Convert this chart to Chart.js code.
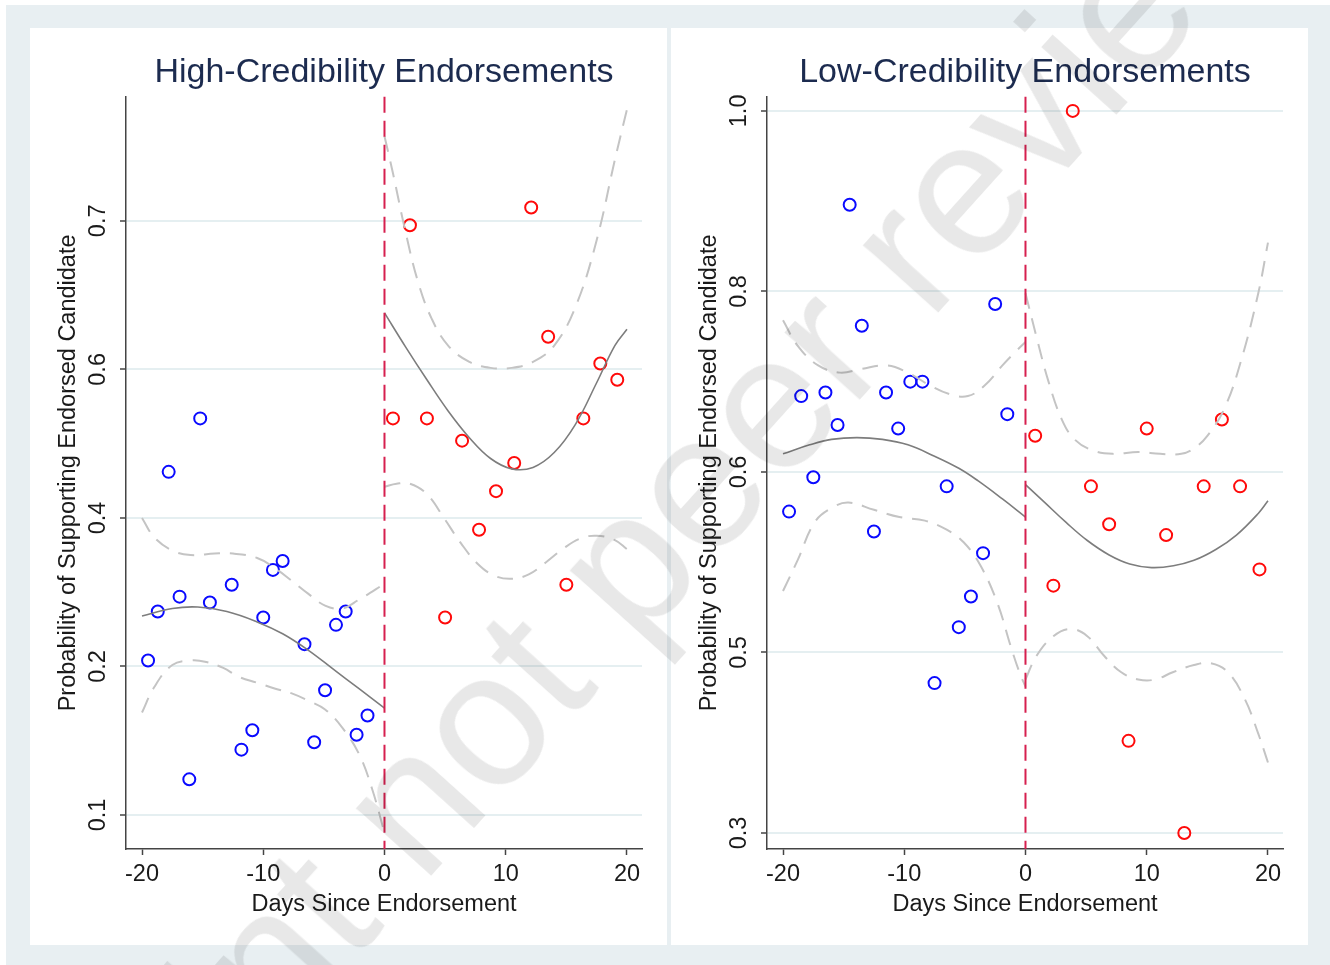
<!DOCTYPE html>
<html>
<head>
<meta charset="utf-8">
<script src="https://cdn.jsdelivr.net/npm/chart.js@4.4.1/dist/chart.umd.min.js"></script>
<style>
  html, body { margin: 0; padding: 0; background: #ffffff; }
  body { width: 1330px; height: 965px; position: relative; overflow: hidden; font-family: "Liberation Sans", Arial, sans-serif; }
  #frame { position: absolute; left: 6px; top: 5px; width: 1324px; height: 960px; background: #e8eff2; }
  .panel { position: absolute; top: 28px; width: 637px; height: 917px; background: #ffffff; }
  .panel canvas { display: block; }
  #wm { position: absolute; left: 641px; top: 544px; transform: translate(-50%, -50%) rotate(-48deg);
        font-size: 192px; line-height: 1; white-space: nowrap; color: rgba(0,0,0,0.09); pointer-events: none; }
</style>
</head>
<body>
<div id="frame"></div>
<div class="panel" style="left:30px"><canvas id="high" width="637" height="917"></canvas></div>
<div class="panel" style="left:671px"><canvas id="low" width="637" height="917"></canvas></div>
<div id="wm">Preprint not peer reviewed</div>
<script>
// ---- shared axis settings ----
const xTicks = [-20, -10, 0, 10, 20];
const cutoffDay = 0;

// ---- High-credibility panel ----
const highYTicks = [0.1, 0.2, 0.3, 0.4, 0.5];
const highYLabels = ['0.1', '0.2', '0.4', '0.6', '0.7'];

const highPreDays = [-19.5, -18.7, -17.8, -16.9, -16.1, -15.2, -14.4, -12.6, -11.8, -10.9, -10.0, -9.2, -8.4, -6.6, -5.8, -4.9, -4.0, -3.2, -2.3, -1.4];
const highPreProb = [0.204, 0.237, 0.331, 0.247, 0.124, 0.367, 0.243, 0.255, 0.144, 0.157, 0.233, 0.265, 0.271, 0.215, 0.149, 0.184, 0.228, 0.237, 0.154, 0.167];

const highPostDays = [0.7, 2.1, 3.5, 5.0, 6.4, 7.8, 9.2, 10.7, 12.1, 13.5, 15.0, 16.4, 17.8, 19.2];
const highPostProb = [0.367, 0.497, 0.367, 0.233, 0.352, 0.292, 0.318, 0.337, 0.509, 0.422, 0.255, 0.367, 0.404, 0.393];

const highPreFitDays = [-20, -17.5, -15.4, -13, -10.5, -8.4, -6.3, -4.2, -2.1, 0];
const highPreFit     = [0.234, 0.239, 0.240, 0.237, 0.230, 0.222, 0.211, 0.198, 0.185, 0.172];
const highPreUpDays  = [-20, -19, -17.5, -16, -14, -12.5, -10.5, -9, -7.7, -6.3, -4.9, -3.5, -2.1, -0.7, 0];
const highPreUp      = [0.300, 0.287, 0.278, 0.275, 0.276, 0.276, 0.273, 0.266, 0.258, 0.249, 0.241, 0.239, 0.245, 0.252, 0.256];
const highPreLoDays  = [-20, -19, -17.5, -16, -14.7, -13.3, -12, -10.5, -9, -7.7, -6.3, -4.9, -3.5, -2.1, -1, 0];
const highPreLo      = [0.169, 0.186, 0.201, 0.204, 0.203, 0.199, 0.193, 0.189, 0.185, 0.182, 0.177, 0.171, 0.159, 0.141, 0.117, 0.088];

const highPostFitDays = [0, 1.75, 3.5, 5.25, 7, 8.75, 10.5, 12.25, 14, 15.75, 17.5, 19, 20];
const highPostFit     = [0.438, 0.415, 0.393, 0.372, 0.354, 0.340, 0.333, 0.334, 0.344, 0.363, 0.391, 0.416, 0.427];
const highPostUpDays  = [0, 0.7, 1.75, 2.8, 3.9, 5.25, 7, 8.75, 10.5, 12.25, 14, 15.8, 17.5, 19, 20];
const highPostUp      = [0.557, 0.532, 0.492, 0.458, 0.434, 0.416, 0.405, 0.401, 0.401, 0.405, 0.416, 0.443, 0.487, 0.541, 0.575];
const highPostLoDays  = [0, 1, 2.1, 3.5, 4.9, 6.3, 7.7, 9.1, 10.5, 11.9, 13.3, 14.7, 16.1, 17.5, 19, 20];
const highPostLo      = [0.321, 0.323, 0.323, 0.316, 0.300, 0.283, 0.269, 0.261, 0.259, 0.262, 0.270, 0.279, 0.286, 0.288, 0.285, 0.279];

// ---- Low-credibility panel ----
const lowYTicks = [0.3, 0.4, 0.5, 0.6, 0.7];
const lowYLabels = ['0.3', '0.5', '0.6', '0.8', '1.0'];

const lowPreDays = [-19.5, -18.5, -17.5, -16.5, -15.5, -14.5, -13.5, -12.5, -11.5, -10.5, -9.5, -8.5, -7.5, -6.5, -5.5, -4.5, -3.5, -2.5, -1.5];
const lowPreProb = [0.478, 0.542, 0.497, 0.544, 0.526, 0.648, 0.581, 0.467, 0.544, 0.524, 0.550, 0.550, 0.383, 0.492, 0.414, 0.431, 0.455, 0.593, 0.532];

const lowPostDays = [0.8, 2.3, 3.9, 5.4, 6.9, 8.5, 10.0, 11.6, 13.1, 14.7, 16.2, 17.7, 19.3];
const lowPostProb = [0.520, 0.437, 0.700, 0.492, 0.471, 0.351, 0.524, 0.465, 0.300, 0.492, 0.529, 0.492, 0.446];

const lowPreFitDays = [-20, -17.8, -16, -13.9, -11.8, -9.7, -7.6, -5.5, -3.9, -1.9, 0];
const lowPreFit     = [0.510, 0.515, 0.518, 0.519, 0.518, 0.515, 0.509, 0.502, 0.495, 0.485, 0.475];
const lowPreUpDays  = [-20, -18.8, -17.1, -15.3, -13.6, -11.4, -9.7, -7.9, -6.2, -4.75, -3.35, -1.9, -0.9, 0];
const lowPreUp      = [0.584, 0.570, 0.559, 0.555, 0.557, 0.559, 0.555, 0.548, 0.543, 0.542, 0.548, 0.559, 0.566, 0.572];
const lowPreLoDays  = [-20, -18.8, -17.4, -16, -14.6, -12.5, -10.4, -8.3, -6.5, -5.1, -3.7, -2.3, -1.2, -0.5, 0];
const lowPreLo      = [0.434, 0.451, 0.472, 0.480, 0.483, 0.479, 0.475, 0.473, 0.468, 0.461, 0.448, 0.427, 0.403, 0.389, 0.381];

const lowPostFitDays = [0, 1.6, 3.35, 5.1, 6.9, 8.6, 10.4, 12.2, 13.9, 15.7, 17.4, 19.2, 20];
const lowPostFit     = [0.493, 0.483, 0.472, 0.462, 0.454, 0.449, 0.447, 0.448, 0.451, 0.457, 0.465, 0.477, 0.484];
const lowPostUpDays  = [0, 0.9, 1.9, 3, 4.05, 5.5, 7.2, 9.3, 11.1, 12.85, 13.9, 15, 16.4, 17.8, 19.2, 20];
const lowPostUp      = [0.599, 0.575, 0.550, 0.529, 0.518, 0.512, 0.510, 0.511, 0.510, 0.510, 0.513, 0.520, 0.535, 0.562, 0.599, 0.627];
const lowPostLoDays  = [0, 0.9, 2.3, 3.7, 5.1, 6.5, 7.9, 9.3, 10.7, 12.15, 13.9, 15.3, 16.7, 18.1, 19.2, 20];
const lowPostLo      = [0.385, 0.398, 0.409, 0.413, 0.409, 0.398, 0.389, 0.385, 0.385, 0.389, 0.393, 0.394, 0.389, 0.374, 0.355, 0.339];

// ---- styling ----
const FONT = '"Liberation Sans", Arial, sans-serif';
const TEXT = '#1a1a1a';
const AXIS = '#444444';
const pts = (xs, ys) => xs.map((x, i) => ({ x, y: ys[i] }));

const cutoffRule = {
  id: 'cutoffRule',
  afterDatasetsDraw(chart) {
    const { ctx, chartArea, scales } = chart;
    const px = scales.x.getPixelForValue(cutoffDay);
    ctx.save();
    ctx.strokeStyle = '#d6204f';
    ctx.lineWidth = 2;
    ctx.setLineDash([16, 8]);
    ctx.beginPath();
    ctx.moveTo(px, chartArea.top);
    ctx.lineTo(px, chartArea.bottom);
    ctx.stroke();
    ctx.restore();
  }
};

function fitLine(data) {
  return { data, showLine: true, borderColor: '#7d7d7d', borderWidth: 1.6, pointRadius: 0,
           tension: 0.4, fill: false };
}
function bandLine(data) {
  return { data, showLine: true, borderColor: '#c4c4c4', borderWidth: 2, borderDash: [16, 10],
           pointRadius: 0, tension: 0.4, fill: false };
}
function dots(data, color) {
  return { data, showLine: false, pointStyle: 'circle', pointRadius: 6, pointBorderWidth: 2,
           pointBorderColor: color, pointBackgroundColor: 'rgba(0,0,0,0)', borderColor: color };
}

function drawPanel(id, title, yTicks, yLabels, yMin, yMax, series) {
  new Chart(document.getElementById(id), {
    type: 'scatter',
    data: {
      datasets: [
        bandLine(pts(series.preUpDays, series.preUp)),
        bandLine(pts(series.preLoDays, series.preLo)),
        bandLine(pts(series.postUpDays, series.postUp)),
        bandLine(pts(series.postLoDays, series.postLo)),
        fitLine(pts(series.preFitDays, series.preFit)),
        fitLine(pts(series.postFitDays, series.postFit)),
        dots(pts(series.preDays, series.preProb), '#0a0aff'),
        dots(pts(series.postDays, series.postProb), '#ff0a0a')
      ]
    },
    options: {
      responsive: false,
      animation: false,
      devicePixelRatio: 1,
      layout: { padding: { left: 0, right: 25, top: 0, bottom: 0 } },
      plugins: {
        legend: { display: false },
        tooltip: { enabled: false },
        title: {
          display: true, text: title, fullSize: false, color: '#1c2b4f',
          font: { family: FONT, size: 34, weight: 'normal' },
          padding: { top: 24, bottom: 4 }
        }
      },
      scales: {
        x: {
          type: 'linear', min: -21.32, max: 21.24,
          afterBuildTicks: s => { s.ticks = xTicks.map(v => ({ value: v })); },
          afterFit: s => { s.height = 96; },
          ticks: { font: { family: FONT, size: 23.5 }, color: TEXT, padding: 5, maxRotation: 0 },
          grid: { drawOnChartArea: false, tickColor: AXIS, tickLength: 6, tickWidth: 1.5 },
          border: { color: AXIS, width: 1.5 },
          title: { display: true, text: 'Days Since Endorsement', color: TEXT,
                   font: { family: FONT, size: 23.5 }, padding: { top: 0, bottom: 26 } }
        },
        y: {
          type: 'linear', min: yMin, max: yMax,
          afterBuildTicks: s => { s.ticks = yTicks.map(v => ({ value: v })); },
          afterFit: s => { s.width = 96; },
          ticks: {
            callback: (v, i) => yLabels[i],
            minRotation: 90, maxRotation: 90, crossAlign: 'center', padding: 5,
            font: { family: FONT, size: 23.5 }, color: TEXT
          },
          grid: { color: '#e5eff1', lineWidth: 2, tickColor: AXIS, tickLength: 6, tickWidth: 1.5 },
          border: { color: AXIS, width: 1.5 },
          title: { display: true, text: 'Probability of Supporting Endorsed Candidate', color: TEXT,
                   font: { family: FONT, size: 23.5 }, padding: { top: 24, bottom: 0 } }
        }
      }
    },
    plugins: [cutoffRule]
  });
}

drawPanel('high', 'High-Credibility Endorsements', highYTicks, highYLabels, 0.0771, 0.5835, {
  preDays: highPreDays, preProb: highPreProb, postDays: highPostDays, postProb: highPostProb,
  preFitDays: highPreFitDays, preFit: highPreFit, preUpDays: highPreUpDays, preUp: highPreUp,
  preLoDays: highPreLoDays, preLo: highPreLo, postFitDays: highPostFitDays, postFit: highPostFit,
  postUpDays: highPostUpDays, postUp: highPostUp, postLoDays: highPostLoDays, postLo: highPostLo
});

drawPanel('low', 'Low-Credibility Endorsements', lowYTicks, lowYLabels, 0.2911, 0.7078, {
  preDays: lowPreDays, preProb: lowPreProb, postDays: lowPostDays, postProb: lowPostProb,
  preFitDays: lowPreFitDays, preFit: lowPreFit, preUpDays: lowPreUpDays, preUp: lowPreUp,
  preLoDays: lowPreLoDays, preLo: lowPreLo, postFitDays: lowPostFitDays, postFit: lowPostFit,
  postUpDays: lowPostUpDays, postUp: lowPostUp, postLoDays: lowPostLoDays, postLo: lowPostLo
});
</script>
</body>
</html>
